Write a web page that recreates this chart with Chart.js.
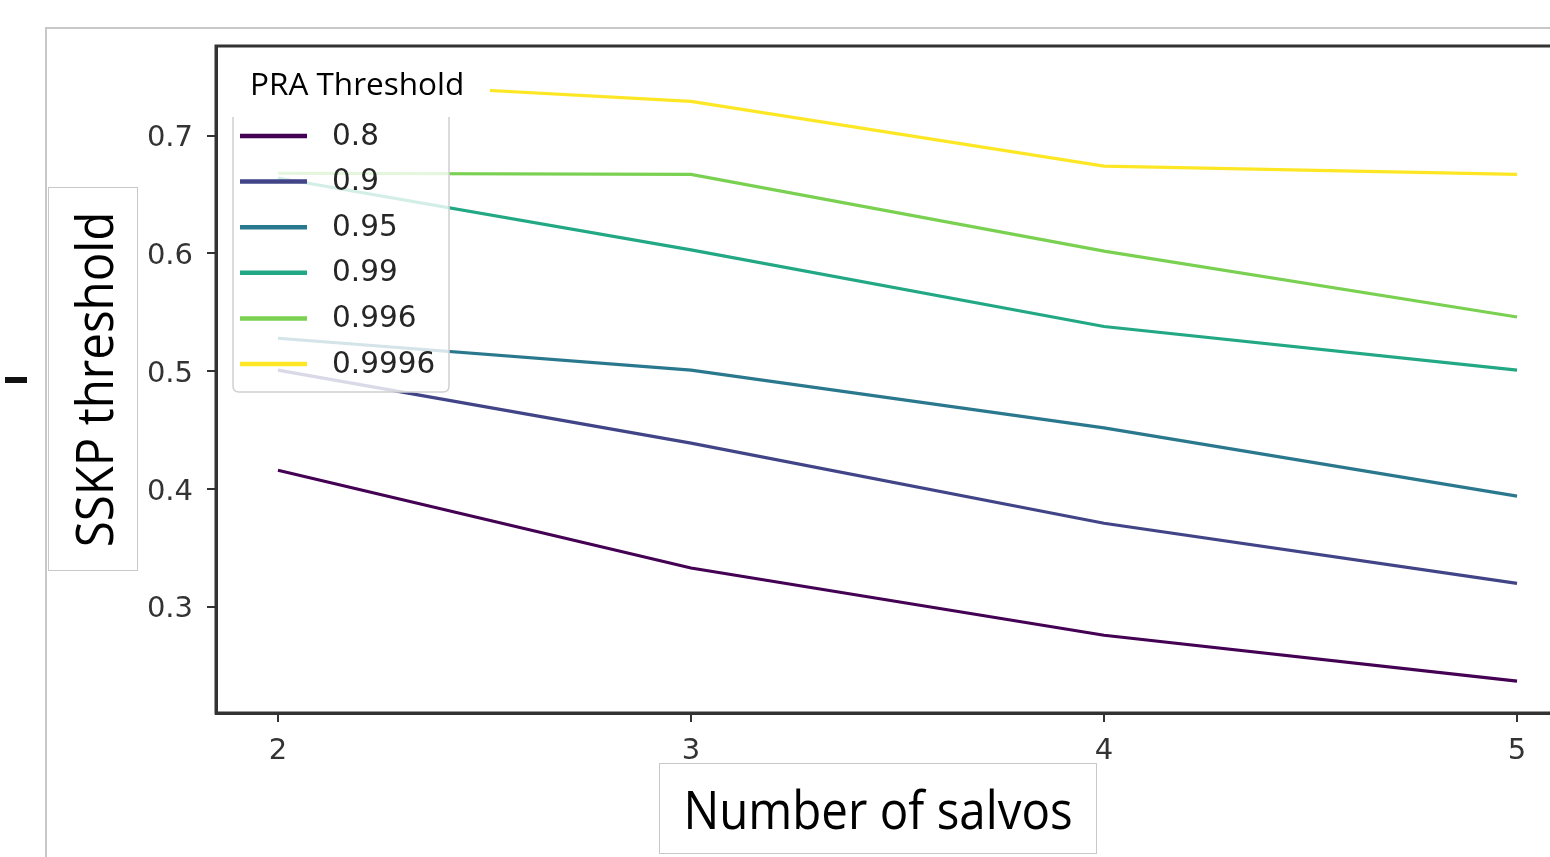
<!DOCTYPE html>
<html>
<head>
<meta charset="utf-8">
<script src="https://cdn.jsdelivr.net/npm/chart.js@4.4.0/dist/chart.umd.min.js"></script>
<style>
  html, body { margin: 0; padding: 0; background: #fff; width: 1550px; height: 857px; overflow: hidden; }
  #wrap { position: absolute; left: 0; top: 0; width: 1550px; height: 857px; overflow: hidden; }
  #chart { position: absolute; left: 0; top: 0; }
  .frame { position: absolute; left: 45px; top: 27px; width: 1600px; height: 900px;
           border-left: 2px solid #c8c8c8; border-top: 2px solid #c8c8c8; pointer-events: none; }
  .dash { position: absolute; left: 5px; top: 377px; width: 22px; height: 6px; background: #111; }
  .lblbox { position: absolute; background: #fff; border: 1px solid #c8c8c8; box-sizing: border-box;
            display: flex; align-items: center; justify-content: center;
            font-family: "Open Sans", sans-serif; color: #000; white-space: nowrap; }
  #ylab { left: 48px; top: 187px; width: 90px; height: 384px; }
  #ylab span { display: inline-block; transform: rotate(-90deg) scaleY(1.08); font-size: 47.5px; }
  #xlab { left: 659px; top: 763px; width: 438px; height: 91px; }
  #xlab span { display: inline-block; transform: scaleY(1.1); font-size: 47.5px; }
</style>
</head>
<body>
<div id="wrap">
  <canvas id="chart" width="1650" height="857"></canvas>
  <div class="frame"></div>
  <div class="dash"></div>
  <div class="lblbox" id="ylab"><span>SSKP threshold</span></div>
  <div class="lblbox" id="xlab"><span>Number of salvos</span></div>
</div>
<script>
// number of salvos
const salvos = [2, 3, 4, 5];
// PRA thresholds (legend entries)
const praThresholds = ['0.8', '0.9', '0.95', '0.99', '0.996', '0.9996'];
// SSKP threshold per PRA threshold
const sskp080 = [0.416, 0.333, 0.276, 0.237];
const sskp090 = [0.501, 0.439, 0.371, 0.320];
const sskp095 = [0.528, 0.501, 0.452, 0.394];
const sskp099 = [0.664, 0.603, 0.538, 0.501];
const sskp0996 = [0.668, 0.667, 0.602, 0.546];
const sskp09996 = [0.748, 0.729, 0.674, 0.667];
const yTicks = [0.3, 0.4, 0.5, 0.6, 0.7];
const xTicks = [2, 3, 4, 5];

const allSeries = [sskp080, sskp090, sskp095, sskp099, sskp0996, sskp09996];
const viridis = ['#440154', '#414487', '#2a788e', '#22a884', '#7ad151', '#fde725'];

const datasets = allSeries.map((vals, i) => ({
  label: praThresholds[i],
  data: vals.map((v, j) => ({ x: salvos[j], y: v })),
  borderColor: viridis[i],
  backgroundColor: viridis[i],
  borderWidth: 3.2,
  pointRadius: 0,
  tension: 0,
  fill: false
}));

// box round the plot area, like matplotlib spines
const frameBox = {
  id: 'frameBox',
  afterDraw(chart) {
    const { ctx, chartArea: a } = chart;
    ctx.save();
    ctx.strokeStyle = '#333';
    ctx.lineWidth = 3;
    ctx.strokeRect(a.left, a.top, a.right - a.left, a.bottom - a.top);
    ctx.restore();
  }
};

// legend drawn inside the axes, with its title on a white patch
const legendBox = {
  id: 'legendBox',
  afterDatasetsDraw(chart) {
    const ctx = chart.ctx;
    ctx.save();
    // frame
    const bx = 233, by = 100, bw = 216, bh = 292, r = 6;
    ctx.beginPath();
    ctx.moveTo(bx + r, by);
    ctx.lineTo(bx + bw - r, by);
    ctx.quadraticCurveTo(bx + bw, by, bx + bw, by + r);
    ctx.lineTo(bx + bw, by + bh - r);
    ctx.quadraticCurveTo(bx + bw, by + bh, bx + bw - r, by + bh);
    ctx.lineTo(bx + r, by + bh);
    ctx.quadraticCurveTo(bx, by + bh, bx, by + bh - r);
    ctx.lineTo(bx, by + r);
    ctx.quadraticCurveTo(bx, by, bx + r, by);
    ctx.closePath();
    ctx.fillStyle = 'rgba(255,255,255,0.8)';
    ctx.fill();
    ctx.strokeStyle = '#d0d0d0';
    ctx.lineWidth = 1.5;
    ctx.stroke();

    // white patch holding the title
    ctx.fillStyle = '#fff';
    ctx.fillRect(220, 49, 270, 68);
    ctx.fillStyle = '#000';
    ctx.font = '31.5px "Open Sans"';
    ctx.textBaseline = 'alphabetic';
    ctx.textAlign = 'left';
    ctx.fillText('PRA Threshold', 250, 95);

    // entries
    chart.data.datasets.forEach((ds, i) => {
      const y = 136 + i * 45.6;
      ctx.strokeStyle = ds.borderColor;
      ctx.lineWidth = 4.5;
      ctx.beginPath();
      ctx.moveTo(240, y);
      ctx.lineTo(307, y);
      ctx.stroke();
      ctx.fillStyle = '#262626';
      ctx.font = '29.5px "DejaVu Sans"';
      ctx.textBaseline = 'middle';
      ctx.fillText(ds.label, 332, y + 1);
    });
    ctx.restore();
  }
};

const tickFont = { family: 'DejaVu Sans', size: 29 };

new Chart(document.getElementById('chart'), {
  type: 'line',
  data: { datasets },
  options: {
    responsive: false,
    animation: false,
    layout: { padding: { top: 46, right: 71, bottom: 0, left: 0 } },
    plugins: { legend: { display: false }, tooltip: { enabled: false } },
    scales: {
      x: {
        type: 'linear',
        min: 1.85,
        max: 5.15,
        afterBuildTicks(scale) { scale.ticks = xTicks.map(v => ({ value: v })); },
        afterFit(scale) { scale.height = 144; },
        ticks: { font: tickFont, color: '#333', padding: 12, maxRotation: 0,
                 callback: v => String(v) },
        grid: { drawOnChartArea: false, drawTicks: true, tickLength: 9, color: '#333', lineWidth: 2 },
        border: { display: true, color: '#333', width: 3 }
      },
      y: {
        type: 'linear',
        min: 0.21,
        max: 0.776,
        afterBuildTicks(scale) { scale.ticks = yTicks.map(v => ({ value: v })); },
        afterFit(scale) { scale.width = 216; },
        ticks: { font: tickFont, color: '#333', padding: 14, labelOffset: 3,
                 callback: v => String(v) },
        grid: { drawOnChartArea: false, drawTicks: true, tickLength: 9, color: '#333', lineWidth: 2 },
        border: { display: true, color: '#333', width: 3 }
      }
    }
  },
  plugins: [frameBox, legendBox]
});
</script>
</body>
</html>
